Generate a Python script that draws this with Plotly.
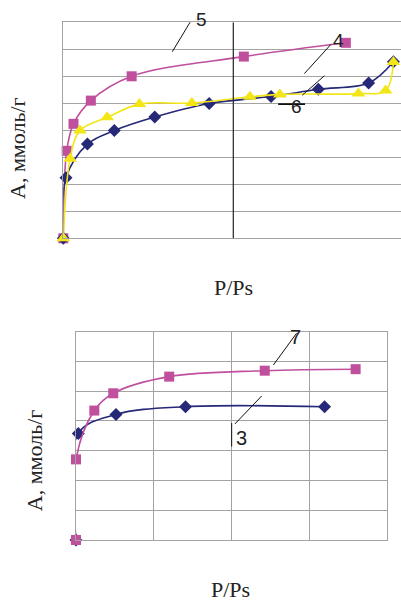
import plotly.graph_objects as go

# ---- data: top panel (curves 4, 5, 6) ----
s4_x = [0, 0.008, 0.071, 0.150, 0.269, 0.429, 0.611, 0.750, 0.898, 0.971]
s4_y = [0, 2.24, 3.49, 3.99, 4.49, 4.99, 5.25, 5.52, 5.75, 6.54]
s5_x = [0, 0.010, 0.030, 0.081, 0.201, 0.531, 0.831]
s5_y = [0, 3.24, 4.24, 5.10, 6.00, 6.73, 7.24]
s6_x = [0, 0.020, 0.049, 0.129, 0.224, 0.378, 0.549, 0.637, 0.868, 0.948, 0.971]
s6_y = [0, 2.95, 3.99, 4.48, 4.97, 5.01, 5.24, 5.33, 5.36, 5.47, 6.53]

# ---- data: bottom panel (curves 3, 7) ----
s7_x = [0, 0, 0.236, 0.48, 1.20, 2.43, 3.60]
s7_y = [0, 2.71, 4.35, 4.93, 5.49, 5.69, 5.74]
s3_x = [0, 0.03, 0.515, 1.41, 3.20]
s3_y = [0, 3.58, 4.22, 4.48, 4.48]

y_title = "А, ммоль/г"
x_title = "P/Ps"

MAG = "#C04F9E"
NAVY = "#262878"
YEL = "#F2E616"
GRID = "#A3A3A3"

W, H = 401, 603

fig = go.Figure()

def add(x, y, color, symbol, size, xa, ya):
    fig.add_trace(go.Scatter(
        x=x, y=y, mode="lines+markers", xaxis=xa, yaxis=ya,
        line=dict(color=color, width=1.6, shape="spline", smoothing=1),
        marker=dict(color=color, symbol=symbol, size=size, line=dict(width=0)),
        cliponaxis=False, showlegend=False, hoverinfo="skip"))

add(s5_x, s5_y, MAG, "square", 10, "x", "y")
add(s4_x, s4_y, NAVY, "diamond", 10, "x", "y")
add(s6_x, s6_y, YEL, "triangle-up", 12, "x", "y")
add(s3_x, s3_y, NAVY, "diamond", 10, "x2", "y2")
add(s7_x, s7_y, MAG, "square", 10, "x2", "y2")

top_l, top_t, top_b = 63.3, 22.3, 238.3
bot_l, bot_r, bot_t, bot_b = 76.0, 386.7, 331.7, 540.0

fig.update_layout(
    width=W, height=H, margin=dict(l=0, r=0, t=0, b=0),
    paper_bgcolor="white", plot_bgcolor="white",
    xaxis=dict(domain=[top_l / W, 1.0], range=[0, (W - top_l) / 340.0],
               showgrid=False, zeroline=False, showticklabels=False, ticks="",
               showline=True, linecolor=GRID, linewidth=1, mirror=True, anchor="y"),
    yaxis=dict(domain=[1 - top_b / H, 1 - top_t / H], range=[0, 8], dtick=1,
               showgrid=True, gridcolor=GRID, gridwidth=1, zeroline=False,
               showticklabels=False, ticks="", showline=True, linecolor=GRID,
               linewidth=1, anchor="x"),
    xaxis2=dict(domain=[bot_l / W, bot_r / W], range=[0, 4], dtick=1,
                showgrid=True, gridcolor=GRID, zeroline=False, showticklabels=False,
                ticks="", showline=True, linecolor=GRID, mirror=True, anchor="y2"),
    yaxis2=dict(domain=[1 - bot_b / H, 1 - bot_t / H], range=[0, 7], dtick=1,
                showgrid=True, gridcolor=GRID, zeroline=False, showticklabels=False,
                ticks="", showline=True, linecolor=GRID, mirror=True, anchor="x2"),
)

# dark vertical divider in top panel
fig.add_shape(type="line", xref="x", yref="y", x0=0.5, x1=0.5, y0=0, y1=8,
              line=dict(color="#222222", width=1.2))

lab_font = dict(family="Liberation Sans, Arial, sans-serif", size=19, color="#222222")
lead = dict(color="#111111", width=1)
C = dict(xanchor="center", yanchor="middle", showarrow=False)

# top panel labels and leader lines
fig.add_annotation(x=201 / W, y=1 - 20 / H, xref="paper", yref="paper", text="5",
                   font=lab_font, **C)
fig.add_shape(type="line", xref="x", yref="y", x0=0.3756, y0=8.06, x1=0.3206, y1=6.91, line=lead)
fig.add_annotation(x=0.809, y=7.33, xref="x", yref="y", text="4", font=lab_font, **C)
fig.add_shape(type="line", xref="x", yref="y", x0=0.787, y0=7.18, x1=0.709, y1=6.10, line=lead)
fig.add_annotation(x=0.686, y=4.87, xref="x", yref="y", text="6", font=lab_font, **C)
fig.add_shape(type="line", xref="x", yref="y", x0=0.632, y0=4.97, x1=0.711, y1=4.97,
              line=dict(color="#111111", width=1.6))
fig.add_shape(type="line", xref="x", yref="y", x0=0.768, y0=6.02, x1=0.703, y1=5.30, line=lead)

# bottom panel labels and leader lines
lab_font2 = dict(lab_font, size=20)
fig.add_annotation(x=2.83, y=6.83, xref="x2", yref="y2", text="7", font=lab_font2, **C)
fig.add_shape(type="line", xref="x2", yref="y2", x0=2.84, y0=6.95, x1=2.541, y1=5.88, line=lead)
fig.add_annotation(x=2.13, y=3.42, xref="x2", yref="y2", text="3", font=lab_font2, **C)
fig.add_shape(type="line", xref="x2", yref="y2", x0=2.39, y0=4.84, x1=2.046, y1=3.90, line=lead)
fig.add_shape(type="line", xref="x2", yref="y2", x0=2.004, y0=3.93, x1=2.004, y1=3.14, line=lead)

# axis titles
tfont = dict(family="Liberation Serif, Times New Roman, serif", size=22, color="#222222")
fig.add_annotation(x=17.5 / W, y=1 - 148.5 / H, xref="paper", yref="paper", text=y_title,
                   textangle=-90, font=tfont, **C)
fig.add_annotation(x=234 / W, y=1 - 287.5 / H, xref="paper", yref="paper", text=x_title,
                   font=tfont, **C)
fig.add_annotation(x=34.7 / W, y=1 - 460.5 / H, xref="paper", yref="paper", text=y_title,
                   textangle=-90, font=tfont, **C)
fig.add_annotation(x=230 / W, y=0, xref="paper", yref="paper", text=x_title,
                   font=tfont, xanchor="center", yanchor="bottom", showarrow=False,
                   borderpad=0)

fig.write_html("out.html")
